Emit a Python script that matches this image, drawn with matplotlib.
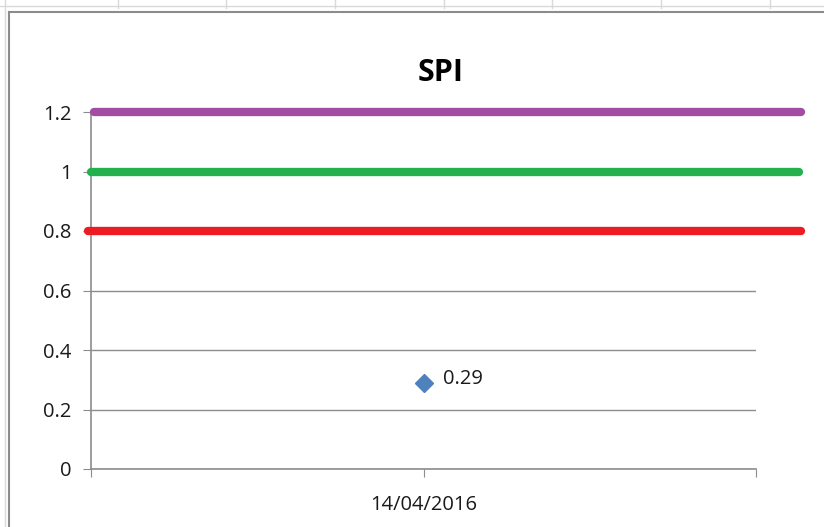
import matplotlib.pyplot as plt
from matplotlib.lines import Line2D

plt.rcParams['font.family'] = ['Open Sans', 'DejaVu Sans']

# data
dates = ['14/04/2016']
spi_values = [0.29]
ref_levels = [1.2, 1.0, 0.8]
ref_colors = ['#A04DA3', '#23B14D', '#ED1C24']
ref_x = [[0.505, 1.568], [0.5, 1.565], [0.496, 1.568]]
yticks = [0, 0.2, 0.4, 0.6, 0.8, 1, 1.2]

fig = plt.figure(figsize=(8.24, 5.27), dpi=100)

# spreadsheet background bits + chart border
fig.add_artist(Line2D([0, 1], [1 - 6 / 527, 1 - 6 / 527], color='#d9d9d9', lw=1))
fig.add_artist(Line2D([5 / 824, 5 / 824], [0, 1], color='#d9d9d9', lw=1))
for xp in [118, 226, 335, 444, 552, 661, 770]:
    fig.add_artist(Line2D([xp / 824, xp / 824], [1 - 8 / 527, 1], color='#d9d9d9', lw=1))
fig.add_artist(Line2D([9 / 824, 1], [1 - 12 / 527, 1 - 12 / 527], color='#8c8c8c', lw=1.5))
fig.add_artist(Line2D([9 / 824, 9 / 824], [0, 1 - 12 / 527], color='#8c8c8c', lw=1.5))

ax = fig.add_axes([91 / 824, 1 - 469 / 527, (756 - 91) / 824, (469 - 112) / 527])
ax.set_xlim(0.5, 1.5)
ax.set_ylim(0, 1.2)

for lvl, col, xs in zip(ref_levels, ref_colors, ref_x):
    ax.plot(xs, [lvl, lvl], color=col, lw=6, solid_capstyle='round', clip_on=False, zorder=3)

ax.plot([1], spi_values, marker='D', color='#4F81BD', ms=9, ls='none', zorder=4)
for v in spi_values:
    ax.annotate(f'{v:.2f}', (1, v), xytext=(14, 3), textcoords='offset points',
                va='center', ha='left', fontsize=14.5, color='#1a1a1a')

ax.set_yticks(yticks)
ax.set_yticklabels(['0', '0.2', '0.4', '0.6', '0.8', '1', '1.2'])
ax.set_xticks([0.5, 1, 1.5])
ax.set_xticklabels(['', dates[0], ''])
ax.yaxis.grid(True, color='#8c8c8c', lw=1)
ax.set_axisbelow(True)
for s in ['top', 'right']:
    ax.spines[s].set_visible(False)
for s in ['left', 'bottom']:
    ax.spines[s].set_color('#8c8c8c')
    ax.spines[s].set_linewidth(1.2)
ax.tick_params(axis='both', colors='#8c8c8c', length=6, labelsize=14.5, labelcolor='#1a1a1a')
ax.tick_params(axis='x', pad=13)
ax.tick_params(axis='y', pad=8)

fig.text(441 / 824, 1 - 73 / 527, 'SPI', ha='center', va='center', fontsize=22, fontweight='bold')

fig.savefig('out.png', dpi=100)
